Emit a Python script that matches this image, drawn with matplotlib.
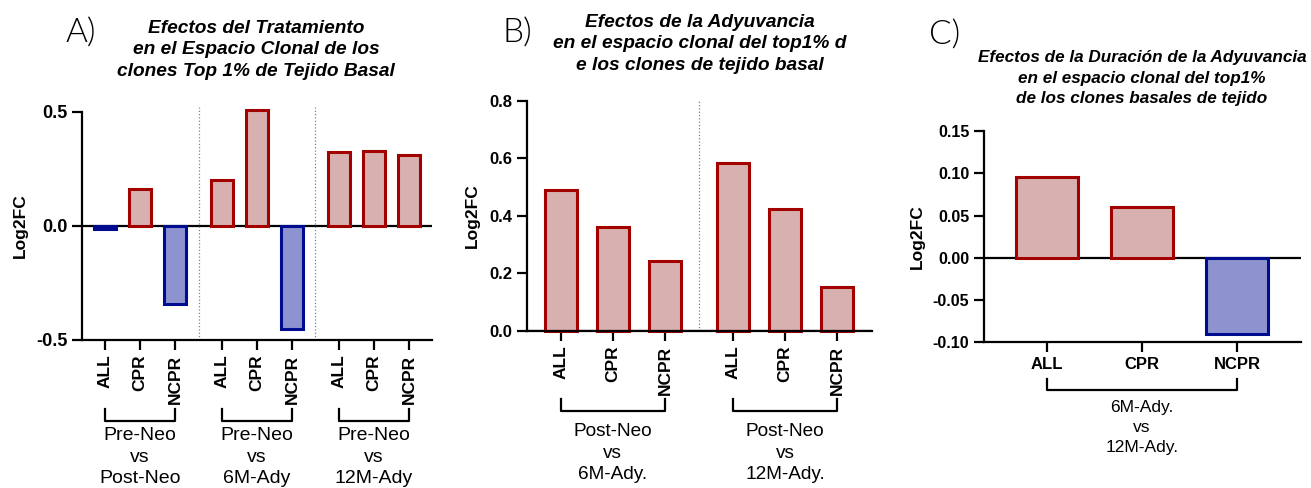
import numpy as np
import matplotlib.pyplot as plt
from matplotlib.transforms import blended_transform_factory

# data
cats = ['ALL', 'CPR', 'NCPR']
a_groups = ['Pre-Neo\nvs\nPost-Neo', 'Pre-Neo\nvs\n6M-Ady', 'Pre-Neo\nvs\n12M-Ady']
a_vals = [[-0.015, 0.162, -0.34], [0.20, 0.51, -0.453], [0.325, 0.33, 0.31]]
b_groups = ['Post-Neo\nvs\n6M-Ady.', 'Post-Neo\nvs\n12M-Ady.']
b_vals = [[0.49, 0.36, 0.244], [0.585, 0.423, 0.154]]
c_group = '6M-Ady.\nvs\n12M-Ady.'
c_vals = [0.095, 0.06, -0.09]

RED_F, RED_E = '#D8B0B0', '#A30000'
BLUE_F, BLUE_E = '#8C93CE', '#000C8F'

plt.rcParams['font.family'] = ['Liberation Sans', 'DejaVu Sans']

W, H = 1311, 488
fig = plt.figure(figsize=(W / 100, H / 100), dpi=100)


def add_ax(x0, x1, ytop, ybot):
    return fig.add_axes([x0 / W, 1 - ybot / H, (x1 - x0) / W, (ybot - ytop) / H])


def fy(px):
    return 1 - px / H


def style(ax, size):
    for s in ['top', 'right']:
        ax.spines[s].set_visible(False)
    for s in ['left', 'bottom']:
        ax.spines[s].set_linewidth(1.6)
    ax.tick_params(width=1.6, length=7)
    ax.axhline(0, color='black', lw=1.6, zorder=1)
    for lab in ax.get_yticklabels():
        lab.set_fontweight('bold')
        lab.set_fontsize(size)


def draw_bars(ax, xs, vals, width):
    vals = np.asarray(vals)
    fc = [RED_F if v >= 0 else BLUE_F for v in vals]
    ec = [RED_E if v >= 0 else BLUE_E for v in vals]
    bars = ax.bar(xs, vals, width=width, color=fc, edgecolor=ec, linewidth=2.2, zorder=2)
    for b in bars:
        b.set_clip_on(False)


def bracket(ax, x0, x1, ytop_px, ybot_px, label, text_px, size, ls):
    tr = blended_transform_factory(ax.transData, fig.transFigure)
    ax.plot([x0, x0, x1, x1], [fy(ytop_px), fy(ybot_px), fy(ybot_px), fy(ytop_px)],
            color='black', lw=1.6, transform=tr, clip_on=False)
    ax.text((x0 + x1) / 2, fy(text_px), label, transform=tr, ha='center', va='center',
            fontsize=size, linespacing=ls)


title_kw = dict(ha='center', va='center', fontweight='bold', fontstyle='italic')
letter_kw = dict(ha='left', va='center', fontsize=24, family=['Lato', 'DejaVu Sans'],
                 fontweight=300)

# ---- Panel A ----
axA = add_ax(82, 432, 112, 340)
gapA = 1.34
xsA = [g * (2 + gapA) + np.arange(3) for g in range(3)]
for xs, vals in zip(xsA, a_vals):
    draw_bars(axA, xs, vals, 0.63)
axA.set_xlim(-0.66, 9.34)
axA.set_ylim(-0.5, 0.5)
axA.set_yticks([-0.5, 0.0, 0.5])
axA.set_yticklabels(['-0.5', '0.0', '0.5'])
allxA = np.concatenate(xsA)
axA.set_xticks(allxA)
axA.set_xticklabels(cats * 3, rotation=90, fontweight='bold', fontsize=12.5)
for g in range(2):
    sep = (xsA[g][-1] + xsA[g + 1][0]) / 2
    axA.plot([sep, sep], [-0.5, 0.52], ls=':', color='gray', lw=0.9, clip_on=False)
style(axA, 13)
axA.set_ylabel('Log2FC', fontweight='bold', fontsize=12.5)
axA.yaxis.set_label_coords(-0.155, 0.5)
for xs, lab in zip(xsA, a_groups):
    bracket(axA, xs[0], xs[-1], 409, 421, lab, 457, 14, 1.35)
fig.text(256 / W, fy(50), 'Efectos del Tratamiento\nen el Espacio Clonal de los\nclones Top 1% de Tejido Basal',
         fontsize=13.8, linespacing=1.38, **title_kw)
fig.text(66 / W, fy(33), 'A)', **letter_kw)

# ---- Panel B ----
axB = add_ax(527, 872, 100.7, 331)
gapB = 1.31
xsB = [g * (2 + gapB) + np.arange(3) for g in range(2)]
for xs, vals in zip(xsB, b_vals):
    draw_bars(axB, xs, vals, 0.62)
axB.set_xlim(-0.65, 5.98)
axB.set_ylim(0, 0.8)
axB.set_yticks([0, 0.2, 0.4, 0.6, 0.8])
axB.set_yticklabels(['0.0', '0.2', '0.4', '0.6', '0.8'])
allxB = np.concatenate(xsB)
axB.set_xticks(allxB)
axB.set_xticklabels(cats * 2, rotation=90, fontweight='bold', fontsize=12.5)
sepB = (xsB[0][-1] + xsB[1][0]) / 2
axB.plot([sepB, sepB], [0, 0.8], ls=':', color='gray', lw=0.9, clip_on=False)
style(axB, 12)
axB.set_ylabel('Log2FC', fontweight='bold', fontsize=12.5)
axB.yaxis.set_label_coords(-0.136, 0.5)
for xs, lab in zip(xsB, b_groups):
    bracket(axB, xs[0], xs[-1], 399, 411, lab, 453, 13.7, 1.35)
fig.text(700 / W, fy(44), 'Efectos de la Adyuvancia\nen el espacio clonal del top1% d\ne los clones de tejido basal',
         fontsize=13.8, linespacing=1.38, **title_kw)
fig.text(503 / W, fy(33), 'B)', **letter_kw)

# ---- Panel C ----
axC = add_ax(984, 1300.7, 131, 342.3)
xsC = np.arange(3)
draw_bars(axC, xsC, c_vals, 0.65)
axC.set_xlim(-0.66, 2.67)
axC.set_ylim(-0.1, 0.15)
axC.set_yticks([-0.10, -0.05, 0.0, 0.05, 0.10, 0.15])
axC.set_yticklabels(['-0.10', '-0.05', '0.00', '0.05', '0.10', '0.15'])
axC.set_xticks(xsC)
axC.set_xticklabels(cats, fontweight='bold', fontsize=12)
style(axC, 11.5)
axC.set_ylabel('Log2FC', fontweight='bold', fontsize=12.5)
axC.yaxis.set_label_coords(-0.186, 0.5)
bracket(axC, xsC[0], xsC[-1], 379, 389.5, c_group, 427.5, 12.5, 1.38)
fig.text(1142 / W, fy(78), 'Efectos de la Duración de la Adyuvancia\nen el espacio clonal del top1%\nde los clones basales de tejido',
         fontsize=12.3, linespacing=1.42, **title_kw)
fig.text(929 / W, fy(35), 'C)', **letter_kw)

fig.savefig('out.png', dpi=100)
